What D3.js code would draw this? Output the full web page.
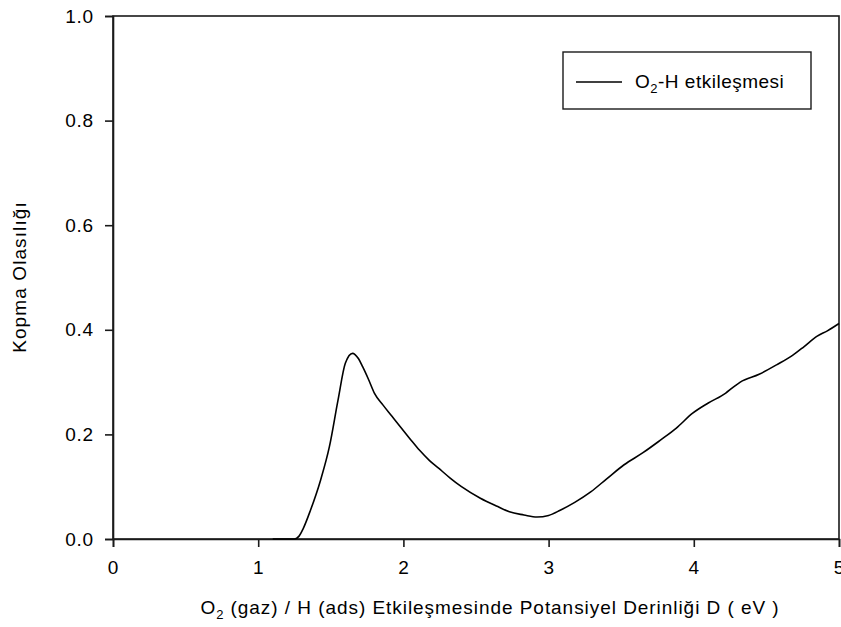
<!DOCTYPE html>
<html>
<head>
<meta charset="utf-8">
<script src="https://cdn.jsdelivr.net/npm/d3@7"></script>
<style>
  html, body { margin: 0; padding: 0; background: #fff; }
  svg { display: block; font-family: Arial, "Liberation Sans", sans-serif; }
</style>
</head>
<body>
<svg id="chart" width="841" height="627"></svg>
<script>
// Potential depth D (eV) and break-up probability for the O2-H interaction
const depthEV = [1.10, 1.15, 1.20, 1.25, 1.28, 1.31, 1.36, 1.43, 1.49, 1.55, 1.60, 1.65, 1.69, 1.72, 1.76,
  1.80, 1.86, 1.92, 1.98, 2.05, 2.11, 2.18, 2.24, 2.32, 2.40, 2.53, 2.65, 2.73, 2.83, 2.92,
  3.00, 3.08, 3.18, 3.29, 3.40, 3.52, 3.65, 3.77, 3.88, 3.99, 4.10, 4.22, 4.27, 4.32,
  4.45, 4.57, 4.68, 4.76, 4.85, 4.92, 5.00];
const probability = [0, 0, 0, 0, 0.005, 0.02, 0.055, 0.113, 0.176, 0.266, 0.336, 0.355, 0.345, 0.329, 0.305,
  0.279, 0.256, 0.235, 0.214, 0.19, 0.17, 0.15, 0.136, 0.117, 0.10, 0.078, 0.062, 0.052, 0.046, 0.042,
  0.045, 0.055, 0.070, 0.090, 0.115, 0.142, 0.165, 0.189, 0.212, 0.240, 0.26, 0.279, 0.29, 0.30,
  0.315, 0.333, 0.351, 0.368, 0.388, 0.398, 0.412];
const xTicks = [0, 1, 2, 3, 4, 5];
const yTicks = [0, 0.2, 0.4, 0.6, 0.8, 1.0];
const seriesName = "etkileşmesi";

const svg = d3.select("#chart");
const plotLeft = 113, plotRight = 839, plotTop = 16, plotBottom = 539;

const x = d3.scaleLinear().domain([0, 5]).range([plotLeft, plotRight]);
const y = d3.scaleLinear().domain([0, 1]).range([plotBottom, plotTop]);

const ink = "#1a1a1a";
const fontSize = 19;
const spacing = "0.8px";

// Frame around the plot area
svg.append("rect")
  .attr("x", plotLeft).attr("y", plotTop)
  .attr("width", plotRight - plotLeft).attr("height", plotBottom - plotTop)
  .attr("fill", "none").attr("stroke", ink).attr("stroke-width", 1.6);

// Axes
const xAxis = svg.append("g")
  .attr("transform", `translate(0,${plotBottom})`)
  .call(d3.axisBottom(x).tickValues(xTicks).tickFormat(d3.format("d")).tickSizeOuter(0).tickSize(8).tickPadding(14));
const yAxis = svg.append("g")
  .attr("transform", `translate(${plotLeft},0)`)
  .call(d3.axisLeft(y).tickValues(yTicks).tickFormat(d3.format(".1f")).tickSizeOuter(0).tickSize(8).tickPadding(11));

[xAxis, yAxis].forEach(g => {
  g.select(".domain").attr("stroke", ink).attr("stroke-width", 1.6);
  g.selectAll(".tick line").attr("stroke", ink).attr("stroke-width", 1.6);
  g.selectAll(".tick text")
    .attr("fill", "#000")
    .style("font-size", fontSize + "px")
    .style("letter-spacing", spacing)
    .style("font-family", "Arial, 'Liberation Sans', sans-serif");
});

// Curve
const pts = depthEV.map((d, i) => [d, probability[i]]);
svg.append("path")
  .datum(pts)
  .attr("fill", "none")
  .attr("stroke", "#000")
  .attr("stroke-width", 1.6)
  .attr("d", d3.line().x(d => x(d[0])).y(d => y(d[1])).curve(d3.curveMonotoneX));

// Legend
const lg = svg.append("g");
lg.append("rect")
  .attr("x", 563).attr("y", 52).attr("width", 248).attr("height", 57)
  .attr("fill", "#fff").attr("stroke", ink).attr("stroke-width", 1.4);
lg.append("line")
  .attr("x1", 576).attr("x2", 622).attr("y1", 82).attr("y2", 82)
  .attr("stroke", "#000").attr("stroke-width", 1.6);
const lt = lg.append("text")
  .attr("x", 635).attr("y", 88)
  .style("font-size", fontSize + "px")
  .style("letter-spacing", "0.5px");
lt.append("tspan").text("O");
lt.append("tspan").attr("dy", 5).style("font-size", "13px").text("2");
lt.append("tspan").attr("dy", -5).text("-H " + seriesName);

// Axis titles
const xt = svg.append("text")
  .attr("x", 490).attr("y", 614)
  .attr("text-anchor", "middle")
  .style("font-size", fontSize + "px")
  .style("letter-spacing", "0.95px");
xt.append("tspan").text("O");
xt.append("tspan").attr("dy", 5).style("font-size", "13px").text("2");
xt.append("tspan").attr("dy", -5).text(" (gaz) / H (ads) Etkileşmesinde Potansiyel Derinliği D ( eV )");

svg.append("text")
  .attr("transform", "translate(26,277) rotate(-90)")
  .attr("text-anchor", "middle")
  .style("font-size", fontSize + "px")
  .style("letter-spacing", "1.1px")
  .text("Kopma Olasılığı");
</script>
</body>
</html>
